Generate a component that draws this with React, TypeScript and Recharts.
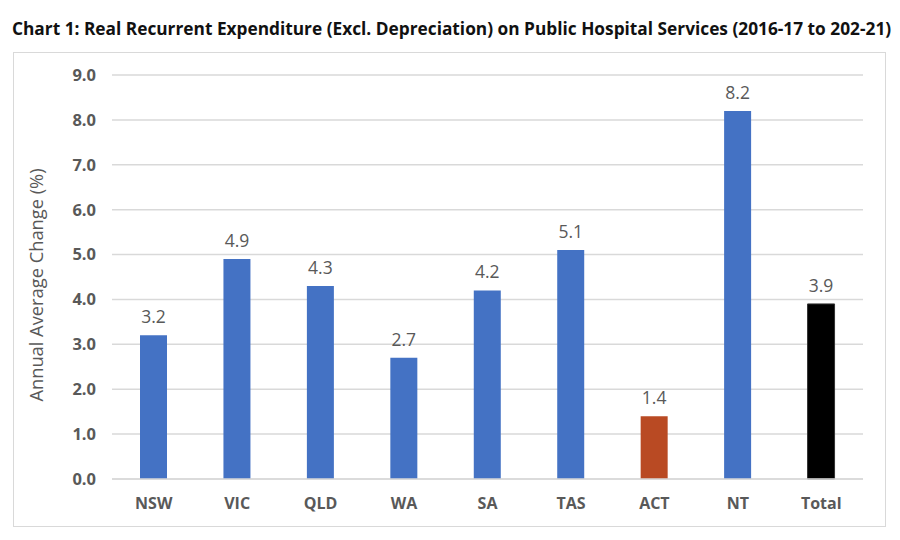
import { BarChart, Bar, XAxis, YAxis, CartesianGrid, Cell, LabelList } from "recharts";

const regions = ["NSW", "VIC", "QLD", "WA", "SA", "TAS", "ACT", "NT", "Total"];
const changes = [3.2, 4.9, 4.3, 2.7, 4.2, 5.1, 1.4, 8.2, 3.9];
const barColors = ["#4472C4", "#4472C4", "#4472C4", "#4472C4", "#4472C4", "#4472C4", "#B94A23", "#4472C4", "#000000"];
const yTicks = [0, 1, 2, 3, 4, 5, 6, 7, 8, 9];

const data = regions.map((region, i) => ({ region, value: changes[i] }));

const font = "Open Sans, Noto Sans, sans-serif";

export default function App() {
  return (
    <div style={{ position: "absolute", left: 0, top: 0, width: 900, height: 540, background: "#fff", fontFamily: font }}>
      <div
        style={{
          position: "absolute",
          left: 12,
          top: 17,
          fontSize: 17.3,
          fontWeight: 700,
          color: "#111",
          whiteSpace: "nowrap"
        }}
      >
        Chart 1: Real Recurrent Expenditure (Excl. Depreciation) on Public Hospital Services (2016-17 to 202-21)
      </div>
      <div
        style={{
          position: "absolute",
          left: 13,
          top: 52,
          width: 873,
          height: 475,
          border: "1px solid #d9d9d9",
          boxSizing: "border-box"
        }}
      />
      <div style={{ position: "absolute", left: 0, top: 0 }}>
        <BarChart width={900} height={540} data={data} margin={{ top: 75, right: 37, bottom: 0, left: 0 }}>
          <CartesianGrid vertical={false} stroke="#d9d9d9" strokeWidth={1.5} />
          <XAxis
            dataKey="region"
            height={61}
            tickLine={false}
            axisLine={{ stroke: "#d9d9d9", strokeWidth: 1.5 }}
            tickMargin={13}
            tick={{ fontSize: 16, fontWeight: 700, fill: "#595959", fontFamily: font }}
          />
          <YAxis
            width={112}
            domain={[0, 9]}
            ticks={yTicks}
            interval={0}
            tickFormatter={(v: number) => v.toFixed(1)}
            tickLine={false}
            axisLine={false}
            tickMargin={10}
            tick={{ fontSize: 16.5, fontWeight: 700, fill: "#595959", fontFamily: font }}
            label={{
              value: "Annual Average Change (%)",
              angle: -90,
              position: "insideLeft",
              dx: 32,
              dy: 8,
              style: { fontSize: 18.3, fill: "#595959", textAnchor: "middle", fontFamily: font }
            }}
          />
          <Bar dataKey="value" barSize={27} isAnimationActive={false}>
            {data.map((d, i) => (
              <Cell key={d.region} fill={barColors[i]} stroke={i === 8 ? "#333" : "none"} />
            ))}
            <LabelList
              dataKey="value"
              position="top"
              offset={12}
              formatter={(v: number) => v.toFixed(1)}
              style={{ fontSize: 17.5, fill: "#595959", fontFamily: font }}
            />
          </Bar>
        </BarChart>
      </div>
    </div>
  );
}
